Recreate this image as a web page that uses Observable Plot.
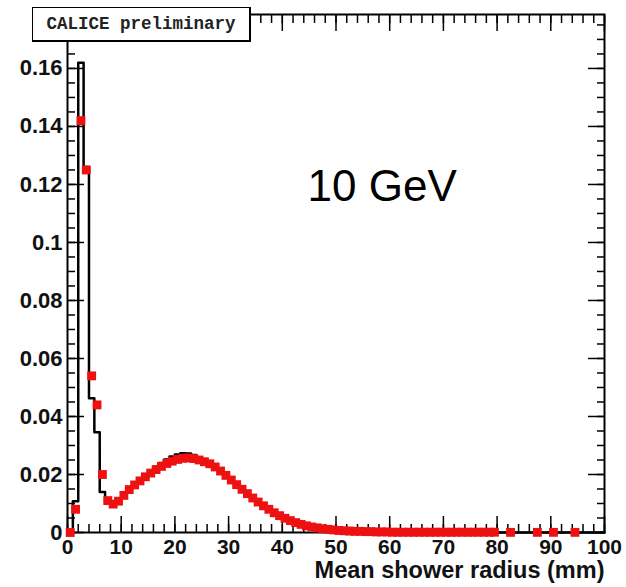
<!DOCTYPE html>
<html>
<head>
<meta charset="utf-8">
<script src="https://cdn.jsdelivr.net/npm/d3@7"></script>
<script src="https://cdn.jsdelivr.net/npm/@observablehq/plot@0.6"></script>
<style>
  html, body { margin: 0; padding: 0; background: #fff; }
  #wrap { position: relative; width: 626px; height: 587px; }
  #tag {
    position: absolute; left: 32px; top: 7px; width: 216px; height: 32px;
    background: #fff; border: 1px solid #000; border-bottom-width: 2px; border-right-width: 2px;
    font-family: "Liberation Mono", "DejaVu Sans Mono", monospace; font-weight: bold;
    font-size: 17.5px; line-height: 32px; text-align: center; color: #222;
  }
</style>
</head>
<body>
<div id="wrap"><div id="tag">CALICE preliminary</div></div>
<script>
// Black histogram: bin contents for 1 mm bins starting at 0 mm
const histValues = [
  0, 0.0108, 0.162, 0.126, 0.0463, 0.0346, 0.014, 0.0105, 0.0098, 0.0108,
  0.0128, 0.0149, 0.0166, 0.0182, 0.0198, 0.0213, 0.0227, 0.0240, 0.0252, 0.0262,
  0.0269, 0.0273, 0.0272, 0.0267, 0.0259, 0.0249, 0.0238, 0.0225, 0.0210, 0.0195,
  0.0179, 0.0163, 0.0147, 0.0132, 0.0117, 0.0103, 0.0090, 0.0078, 0.0066, 0.0056,
  0.0047, 0.0039, 0.0032, 0.0026, 0.0021, 0.0017, 0.0014, 0.0011, 0.0009, 0.0007,
  0.0006, 0.0005, 0.0004, 0.0003, 0.0003, 0.0002, 0.0002, 0.0001, 0, 0,
  0, 0, 0, 0, 0, 0, 0, 0, 0, 0,
  0, 0, 0, 0, 0, 0, 0, 0, 0, 0,
  0, 0, 0, 0, 0, 0, 0, 0, 0, 0,
  0, 0, 0, 0, 0, 0, 0, 0, 0, 0
];

// Red markers: bin centres (mm) and contents
const markerRadius = [
  0.5, 1.5, 2.5, 3.5, 4.5, 5.5, 6.5, 7.5, 8.5, 9.5,
  10.5, 11.5, 12.5, 13.5, 14.5, 15.5, 16.5, 17.5, 18.5, 19.5,
  20.5, 21.5, 22.5, 23.5, 24.5, 25.5, 26.5, 27.5, 28.5, 29.5,
  30.5, 31.5, 32.5, 33.5, 34.5, 35.5, 36.5, 37.5, 38.5, 39.5,
  40.5, 41.5, 42.5, 43.5, 44.5, 45.5, 46.5, 47.5, 48.5, 49.5,
  50.5, 51.5, 52.5, 53.5, 54.5, 55.5, 56.5, 57.5, 58.5, 59.5,
  60.5, 61.5, 62.5, 63.5, 64.5, 65.5, 66.5, 67.5, 68.5, 69.5,
  70.5, 71.5, 72.5, 73.5, 74.5, 75.5, 76.5, 77.5, 78.5, 79.5,
  82.5, 87.5, 90.5, 94.5
];
const markerValues = [
  0, 0.008, 0.142, 0.125, 0.054, 0.044, 0.020, 0.011, 0.0098, 0.0108,
  0.0128, 0.0148, 0.0164, 0.0178, 0.0192, 0.0205, 0.0217, 0.0228, 0.0238, 0.0246,
  0.0252, 0.0256, 0.0257, 0.0255, 0.0250, 0.0244, 0.0237, 0.0226, 0.0212, 0.0197,
  0.0181, 0.0165, 0.0149, 0.0134, 0.0119, 0.0105, 0.0092, 0.0080, 0.0068, 0.0058,
  0.0049, 0.0041, 0.0034, 0.0028, 0.0023, 0.0019, 0.0016, 0.0013, 0.0011, 0.0009,
  0.0007, 0.0006, 0.0005, 0.0004, 0.0004, 0.0003, 0.0003, 0.0002, 0.0002, 0.0002,
  0.0001, 0.0001, 0.0001, 0.0001, 0.0001, 0.0001, 0.0001, 0.0001, 0.0001, 0.0001,
  0.0001, 0.0001, 0.0001, 0.0001, 0.0001, 0.0001, 0.0001, 0.0001, 0.0001, 0.0001,
  0.00005, 0.00005, 0.00005, 0.00005
];

// Axis ticks and labels
const xMajorTicks = [0, 10, 20, 30, 40, 50, 60, 70, 80, 90, 100];
const xTickLabels = ["0", "10", "20", "30", "40", "50", "60", "70", "80", "90", "100"];
const yMajorTicks = [0, 0.02, 0.04, 0.06, 0.08, 0.1, 0.12, 0.14, 0.16];
const yTickLabels = ["0", "0.02", "0.04", "0.06", "0.08", "0.1", "0.12", "0.14", "0.16"];
const xMinorTicks = d3.range(0, 101, 2);
const yMinorTicks = d3.range(0, 0.1776, 0.005);

const xTitle = "Mean shower radius (mm)";
const energyLabel = "10 GeV";

const histPoints = histValues.map((v, i) => ({r: i, v}));
histPoints.push({r: histValues.length, v: 0});
const markers = markerRadius.map((r, i) => ({r, v: markerValues[i]}));

const labelFont = "Liberation Sans, Arial, sans-serif";
const tickStroke = 1.5;

const chart = Plot.plot({
  width: 626,
  height: 587,
  marginLeft: 67,
  marginRight: 22,
  marginTop: 14,
  marginBottom: 55,
  style: {fontFamily: labelFont, color: "#000", background: "transparent"},
  x: {domain: [0, 100], label: null},
  y: {domain: [0, 0.1786], label: null},
  marks: [
    // minor + major ticks, drawn inside the frame on all four sides
    Plot.axisX(xMinorTicks, {anchor: "bottom", tickSize: -8, fill: "none", strokeWidth: tickStroke, label: null}),
    Plot.axisX(xMajorTicks, {anchor: "bottom", tickSize: -16, fill: "none", strokeWidth: tickStroke, label: null}),
    Plot.axisX(xMinorTicks, {anchor: "top", tickSize: -8, fill: "none", strokeWidth: tickStroke, label: null}),
    Plot.axisX(xMajorTicks, {anchor: "top", tickSize: -16, fill: "none", strokeWidth: tickStroke, label: null}),
    Plot.axisY(yMinorTicks, {anchor: "left", tickSize: -8, fill: "none", strokeWidth: tickStroke, label: null}),
    Plot.axisY(yMajorTicks, {anchor: "left", tickSize: -17, fill: "none", strokeWidth: tickStroke, label: null}),
    Plot.axisY(yMinorTicks, {anchor: "right", tickSize: -8, fill: "none", strokeWidth: tickStroke, label: null}),
    Plot.axisY(yMajorTicks, {anchor: "right", tickSize: -17, fill: "none", strokeWidth: tickStroke, label: null}),
    // tick labels
    Plot.axisX(xMajorTicks, {anchor: "bottom", tickSize: 0, tickPadding: 7, label: null,
      tickFormat: (d, i) => xTickLabels[i], fontSize: 21, fontWeight: "bold", fill: "#111"}),
    Plot.axisY(yMajorTicks, {anchor: "left", tickSize: 0, tickPadding: 5, label: null,
      tickFormat: (d, i) => yTickLabels[i], fontSize: 22, fontWeight: "bold", fill: "#111"}),
    Plot.frame({stroke: "#000", strokeWidth: 2}),
    // histogram outline
    Plot.line(histPoints, {x: "r", y: "v", curve: "step-after", stroke: "#000", strokeWidth: 2.5}),
    // red markers
    Plot.dot(markers, {x: "r", y: "v", symbol: "square", r: 5, fill: "#ee1111", stroke: null}),
    // axis title
    Plot.text([xTitle], {frameAnchor: "bottom-right", textAnchor: "end", lineAnchor: "middle",
      dy: 38, fontSize: 23.5, fontWeight: "bold", fill: "#111"}),
    // energy annotation
    Plot.text([energyLabel], {x: () => 58.6, y: () => 0.119, fontSize: 44, fill: "#000"})
  ]
});

document.getElementById("wrap").insertBefore(chart, document.getElementById("tag"));
chart.style.position = "absolute";
chart.style.left = "0";
chart.style.top = "0";
</script>
</body>
</html>
